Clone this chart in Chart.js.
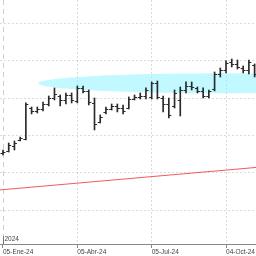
<!DOCTYPE html>
<html>
<head>
<meta charset="utf-8">
<script src="https://cdn.jsdelivr.net/npm/chart.js@4/dist/chart.umd.min.js"></script>
<style>
  html, body { margin: 0; padding: 0; background: #fff; }
  #wrap { width: 256px; height: 256px; }
</style>
</head>
<body>
<div id="wrap"><canvas id="ohlc" width="256" height="256"></canvas></div>
<script>
// Weekly bars
const dates = [
  '2024-01-05','2024-01-12','2024-01-19','2024-01-26','2024-02-02','2024-02-09','2024-02-16','2024-02-23',
  '2024-03-01','2024-03-08','2024-03-15','2024-03-22','2024-03-29','2024-04-05','2024-04-12','2024-04-19',
  '2024-04-26','2024-05-03','2024-05-10','2024-05-17','2024-05-24','2024-05-31','2024-06-07','2024-06-14',
  '2024-06-21','2024-06-28','2024-07-05','2024-07-12','2024-07-19','2024-07-26','2024-08-02','2024-08-09',
  '2024-08-16','2024-08-23','2024-08-30','2024-09-06','2024-09-13','2024-09-20','2024-09-27','2024-10-04',
  '2024-10-11','2024-10-18','2024-10-25','2024-11-01','2024-11-08'
];
const opens = [27.67,27.94,28.60,29.40,29.54,33.67,33.27,33.54,34.20,35.00,35.27,34.74,35.40,34.60,36.34,35.94,
  34.34,31.80,33.14,33.54,33.94,33.67,33.67,34.87,35.14,35.27,35.14,37.00,35.00,34.20,33.94,34.74,
  36.07,36.60,36.34,35.94,35.27,36.20,38.20,38.74,39.80,39.54,39.00,38.74,39.40];
const highs = [28.07,29.00,29.27,29.80,34.34,33.80,33.80,34.47,35.27,36.34,35.40,35.67,35.67,36.60,36.60,36.07,
  35.00,32.74,33.80,34.20,34.20,34.07,35.14,35.40,35.67,36.34,37.14,37.27,35.27,35.00,36.07,36.47,
  37.14,37.14,36.47,36.34,36.07,38.47,39.00,39.94,40.20,40.07,39.27,40.07,39.54];
const lows = [27.40,27.80,28.07,29.27,29.40,32.87,33.00,33.27,33.94,34.74,33.94,34.20,34.34,34.34,35.67,34.07,
  30.74,31.67,32.87,33.40,33.14,32.87,33.54,34.74,34.87,34.87,34.87,34.87,33.14,32.34,33.67,32.60,
  35.67,36.07,35.67,35.00,35.00,35.94,37.80,38.34,39.14,38.87,38.34,38.20,37.80];
const closes = [27.80,28.74,29.00,29.67,34.20,33.27,33.54,34.20,35.00,35.54,34.74,35.40,34.74,36.34,35.94,34.47,
  31.54,32.47,33.54,33.94,33.67,33.27,34.87,35.14,35.27,36.07,37.00,35.14,34.20,32.74,35.67,36.07,
  36.60,36.47,35.94,35.27,35.94,38.20,38.74,39.67,39.54,39.14,38.74,39.80,38.20];

// Long-term trend line (red)
const trendDates = ['2024-01-01','2024-11-14'];
const trendValues = [22.74,25.78];

// Highlighted zone (cyan ellipse): centre date/value and radii
const zoneCentreDate = '2024-09-24';
const zoneCentreValue = 36.96;
const zoneRadiusDays = 220;
const zoneRadiusValue = 1.33;

// Axis ticks
const tickDates = ['2024-01-05','2024-04-05','2024-07-05','2024-10-04'];
const tickLabels = ['05-Ene-24','05-Abr-24','05-Jul-24','04-Oct-24'];
const yearDate = '2024-01-05';
const yearLabel = '2024';

const day = s => (Date.parse(s) - Date.parse(dates[0])) / 86400000;

const rangeData = dates.map((d, i) => ({ x: day(d), y: [lows[i], highs[i]] }));
const trendData = trendDates.map((d, i) => ({ x: day(d), y: trendValues[i] }));

const FONT = { family: 'Liberation Sans, Arial, sans-serif', size: 6.5 };

// open/close ticks, ellipse zone and year marker
const ohlcPlugin = {
  id: 'ohlcExtras',
  beforeDatasetsDraw(chart) {
    const { ctx, chartArea: a, scales: { x, y } } = chart;
    ctx.save();
    ctx.beginPath();
    ctx.rect(a.left, a.top, a.right - a.left, a.bottom - a.top);
    ctx.clip();
    // zone
    const cx = x.getPixelForValue(day(zoneCentreDate));
    const cy = y.getPixelForValue(zoneCentreValue);
    const rx = Math.abs(x.getPixelForValue(day(zoneCentreDate) + zoneRadiusDays) - cx);
    const ry = Math.abs(y.getPixelForValue(zoneCentreValue + zoneRadiusValue) - cy);
    ctx.fillStyle = 'rgba(120, 240, 255, 0.45)';
    ctx.beginPath();
    ctx.ellipse(cx, cy, rx, ry, 0, 0, Math.PI * 2);
    ctx.fill();
    // year separator
    const yx = Math.round(x.getPixelForValue(day(yearDate))) + 0.5;
    ctx.strokeStyle = '#cfcfcf';
    ctx.lineWidth = 1;
    ctx.setLineDash([5, 4]);
    ctx.beginPath();
    ctx.moveTo(yx, a.top);
    ctx.lineTo(yx, a.bottom);
    ctx.stroke();
    ctx.restore();
  },
  afterDatasetsDraw(chart) {
    const { ctx, chartArea: a, scales: { x, y } } = chart;
    ctx.save();
    ctx.strokeStyle = '#2a2a2a';
    ctx.lineWidth = 1;
    ctx.beginPath();
    dates.forEach((d, i) => {
      const px = x.getPixelForValue(day(d));
      const po = Math.round(y.getPixelForValue(opens[i])) + 0.5;
      const pc = Math.round(y.getPixelForValue(closes[i])) + 0.5;
      ctx.moveTo(px - 2.5, po); ctx.lineTo(px, po);
      ctx.moveTo(px, pc); ctx.lineTo(px + 2.5, pc);
    });
    ctx.stroke();
    // year label
    const yx = Math.round(x.getPixelForValue(day(yearDate))) + 0.5;
    ctx.strokeStyle = '#777';
    ctx.beginPath();
    ctx.moveTo(yx, a.bottom - 8);
    ctx.lineTo(yx, a.bottom);
    ctx.stroke();
    ctx.fillStyle = '#444';
    ctx.font = FONT.size + 'px ' + FONT.family;
    ctx.textAlign = 'left';
    ctx.textBaseline = 'alphabetic';
    ctx.fillText(yearLabel, yx + 1, a.bottom - 3);
    ctx.restore();
  }
};

const ctx = document.getElementById('ohlc').getContext('2d');
const chart = new Chart(ctx, {
  type: 'bar',
  data: {
    datasets: [{
      label: 'Rango',
      data: rangeData,
      backgroundColor: '#2a2a2a',
      borderWidth: 0,
      barThickness: 1,
      order: 1
    }, {
      type: 'line',
      label: 'Tendencia',
      data: trendData,
      borderColor: '#f05a5a',
      borderWidth: 1,
      pointRadius: 0,
      order: 2
    }]
  },
  options: {
    responsive: false,
    animation: false,
    devicePixelRatio: 1,
    layout: { padding: 0, autoPadding: false },
    plugins: { legend: { display: false }, tooltip: { enabled: false } },
    scales: {
      x: {
        type: 'linear',
        offset: false,
        min: -3.67,
        max: 309.7,
        afterBuildTicks: s => { s.ticks = tickDates.map(d => ({ value: day(d) })); },
        afterFit: s => { s.height = 12; },
        ticks: {
          align: 'start',
          padding: 0,
          maxRotation: 0,
          autoSkip: false,
          color: '#444',
          font: FONT,
          callback: (v, i) => tickLabels[i]
        },
        grid: {
          offset: false,
          color: c => (c.tick && c.tick.value === 0) ? 'transparent' : 'rgba(0,0,0,0.14)',
          tickColor: '#888',
          tickLength: 4
        },
        border: { display: true, color: '#888', width: 1, dash: [2, 2] }
      },
      y: {
        min: 15.533,
        max: 48.067,
        afterBuildTicks: s => {
          s.ticks = s.ticks.filter(t => Math.abs(t.value / 5 - Math.round(t.value / 5)) < 1e-6);
        },
        afterFit: s => { s.width = 0; },
        ticks: { display: false, stepSize: 5 },
        grid: { color: 'rgba(0,0,0,0.14)', drawTicks: false },
        border: { display: false, dash: [2, 2] }
      }
    }
  },
  plugins: [ohlcPlugin]
});
</script>
</body>
</html>
